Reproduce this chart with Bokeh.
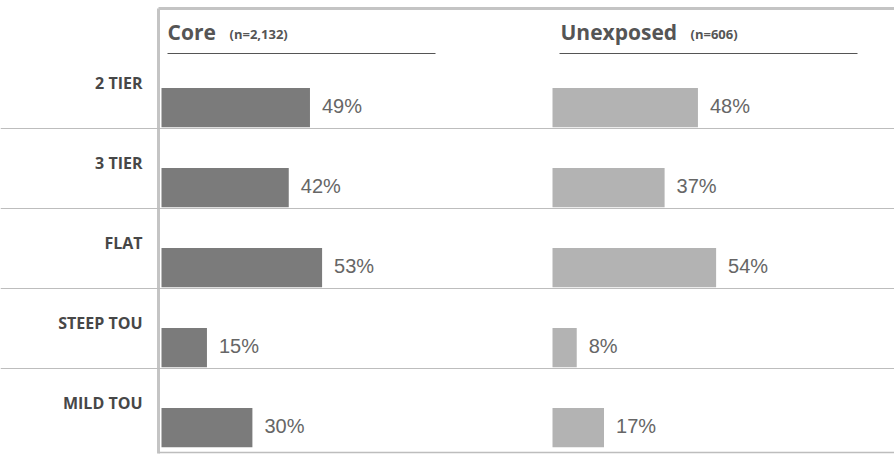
from bokeh.plotting import figure
from bokeh.models import Range1d, ColumnDataSource, Span
from bokeh.core.properties import value
from bokeh.embed import file_html
from bokeh.resources import INLINE

# ---- data ----
categories = ["2 TIER", "3 TIER", "FLAT", "STEEP TOU", "MILD TOU"]
core = [49, 42, 53, 15, 30]
unexposed = [48, 37, 54, 8, 17]
groups = ["Core", "Unexposed"]
group_n = ["(n=2,132)", "(n=606)"]

# ---- layout constants (pixels) ----
W, H = 894, 457
PX = 3.03            # pixels per percentage point
X0 = 161             # pixel where Core bars start
UNEXP_PX = 552       # pixel where Unexposed bars start
ROW_TOP = 48
ROW_H = 80

def dx(px):
    return (px - X0) / PX

def dy(py):
    return (py - ROW_TOP) / ROW_H

unexp_off = dx(UNEXP_PX)

p = figure(width=W, height=H, output_backend="svg", toolbar_location=None,
           x_range=Range1d(dx(0), dx(W)), y_range=Range1d(dy(H), dy(0)),
           min_border=0, min_border_left=0, min_border_right=0,
           min_border_top=0, min_border_bottom=0)
p.axis.visible = False
p.grid.visible = False
p.outline_line_color = None
p.background_fill_color = "white"
p.border_fill_color = "white"

n = len(categories)
ys = [i + 0.74 for i in range(n)]

# separators
for i in range(1, n):
    p.add_layout(Span(location=i, dimension="width", line_color="#bdbdbd", line_width=1))

# frame
p.line([dx(158), dx(W)], [dy(8), dy(8)], line_color="#c4c4c4", line_width=3)
p.line([dx(158), dx(158)], [dy(8), dy(453)], line_color="#c4c4c4", line_width=3)
p.line([dx(158), dx(W)], [dy(452), dy(452)], line_color="#bdbdbd", line_width=1.5)

# bars
src = ColumnDataSource(dict(
    y=ys, core=core, unexp=unexposed,
    unexp_left=[unexp_off] * n,
    unexp_right=[unexp_off + v for v in unexposed],
    core_lbl=[f"{v}%" for v in core],
    unexp_lbl=[f"{v}%" for v in unexposed],
    core_lx=[v + 12 / PX for v in core],
    unexp_lx=[unexp_off + v + 12 / PX for v in unexposed],
    lbl_y=[i + 0.72 for i in range(n)],
    cat_y=[i + 0.43 for i in range(n)],
    cat=categories,
    cat_x=[dx(142)] * n,
))
p.hbar(y="y", left=0, right="core", height=0.49, source=src,
       fill_color="#7b7b7b", line_color=None)
p.hbar(y="y", left="unexp_left", right="unexp_right", height=0.49, source=src,
       fill_color="#b3b3b3", line_color=None)

p.text(x="core_lx", y="lbl_y", text="core_lbl", source=src,
       text_font=value("Liberation Sans"), text_font_size="20px",
       text_color="#666666", text_baseline="middle", text_align="left")
p.text(x="unexp_lx", y="lbl_y", text="unexp_lbl", source=src,
       text_font=value("Liberation Sans"), text_font_size="20px",
       text_color="#666666", text_baseline="middle", text_align="left")

p.text(x="cat_x", y="cat_y", text="cat", source=src,
       text_font=value("Open Sans"), text_font_size="16px", text_font_style="bold",
       text_color="#474747", text_baseline="middle", text_align="right")

# headers
hdr_x = [dx(167), dx(560)]
n_x = [dx(229), dx(690)]
p.text(x=hdr_x, y=[dy(31)] * 2, text=groups,
       text_font=value("Open Sans"), text_font_size="21px", text_font_style="bold",
       text_color="#555555", text_baseline="middle", text_align="left")
p.text(x=n_x, y=[dy(33)] * 2, text=group_n,
       text_font=value("Open Sans"), text_font_size="13px", text_font_style="bold",
       text_color="#555555", text_baseline="middle", text_align="left")

# header underlines
p.line([dx(167), dx(435)], [dy(53), dy(53)], line_color="#555555", line_width=1)
p.line([dx(559), dx(857)], [dy(53), dy(53)], line_color="#555555", line_width=1)

open("out.html", "w").write(file_html(p, INLINE))
